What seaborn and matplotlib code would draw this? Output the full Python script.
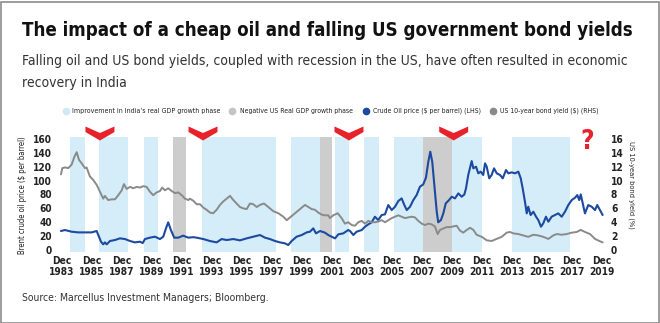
import matplotlib
matplotlib.use("Agg")
import matplotlib.pyplot as plt
from matplotlib.lines import Line2D
from matplotlib.patches import Polygon, Rectangle
import seaborn as sns

# ---------------- data ----------------
oil_years = [1983.85, 1984.12, 1984.56, 1985.0, 1985.45, 1985.9, 1986.23, 1986.34, 1986.52, 1986.67,
             1986.78, 1986.9, 1987.12, 1987.45, 1987.78, 1988.12, 1988.45, 1988.78, 1989.12, 1989.3,
             1989.45, 1989.78, 1990.12, 1990.45, 1990.67, 1990.85, 1991.0, 1991.18, 1991.4, 1991.67,
             1992.0, 1992.34, 1992.67, 1992.9, 1993.34, 1993.78, 1994.23, 1994.56, 1994.9, 1995.34,
             1995.78, 1996.23, 1996.67, 1997.12, 1997.45, 1997.78, 1998.12, 1998.45, 1998.78, 1999.0,
             1999.23, 1999.56, 1999.9, 2000.23, 2000.45, 2000.67, 2000.85, 2001.12, 2001.45, 2001.67,
             2001.9, 2002.12, 2002.34, 2002.67, 2003.0, 2003.12, 2003.34, 2003.56, 2003.9, 2004.12,
             2004.34, 2004.56, 2004.78, 2005.0, 2005.23, 2005.45, 2005.67, 2005.9, 2006.12, 2006.34,
             2006.56, 2006.74, 2006.9, 2007.12, 2007.34, 2007.56, 2007.78, 2008.0, 2008.18, 2008.34,
             2008.47, 2008.6, 2008.74, 2008.9, 2009.0, 2009.18, 2009.34, 2009.5, 2009.72, 2009.9,
             2010.12, 2010.34, 2010.56, 2010.74, 2010.85, 2011.0, 2011.23, 2011.34, 2011.52, 2011.67,
             2011.83, 2012.0, 2012.12, 2012.23, 2012.4, 2012.56, 2012.72, 2012.9, 2013.12, 2013.3,
             2013.52, 2013.67, 2013.9, 2014.12, 2014.34, 2014.5, 2014.63, 2014.78, 2014.9, 2015.0,
             2015.16, 2015.34, 2015.52, 2015.67, 2015.85, 2016.0, 2016.18, 2016.34, 2016.56, 2016.78,
             2017.0, 2017.23, 2017.45, 2017.67, 2017.9, 2018.12, 2018.27, 2018.4, 2018.5, 2018.63,
             2018.78, 2019.0, 2019.23, 2019.45, 2019.6, 2019.78, 2019.96]
oil_price = [27.4, 28.8, 26.4, 25.4, 25.4, 25.4, 27.4, 21.6, 12.0, 8.2,
             11.0, 8.2, 13.0, 14.4, 16.8, 15.8, 13.0, 11.0, 12.0, 10.0,
             15.8, 17.8, 19.2, 15.8, 19.2, 31.2, 39.9, 28.8, 17.8, 17.8,
             20.7, 17.8, 18.5, 17.8, 15.8, 13.0, 11.0, 15.8, 14.4, 15.8,
             13.9, 16.8, 19.2, 21.6, 17.8, 15.8, 13.0, 11.0, 9.6, 7.2,
             13.0, 19.2, 21.6, 25.4, 26.4, 31.2, 24.0, 27.4, 25.0, 21.6,
             19.2, 16.8, 22.6, 24.0, 28.8, 27.4, 21.6, 26.4, 28.8, 33.6,
             37.0, 39.9, 48.0, 43.2, 50.4, 51.4, 64.8, 57.6, 62.4, 70.6,
             74.4, 64.8, 57.6, 62.4, 72.0, 79.2, 91.2, 94.6, 104.2, 127.3,
             141.7, 127.3, 93.7, 55.2, 39.9, 43.2, 52.8, 67.2, 72.0, 76.8,
             74.4, 81.6, 76.8, 80.0, 88.8, 108.1, 128.2, 117.7, 120.1, 110.5,
             112.9, 108.1, 124.9, 120.1, 103.3, 108.1, 117.7, 110.5, 108.1, 103.3,
             115.3, 110.5, 111.9, 110.5, 112.9, 103.3, 88.8, 69.6, 52.8, 62.4,
             50.4, 55.2, 48.0, 43.2, 33.6, 38.4, 48.0, 40.8, 48.0, 50.4,
             52.8, 48.0, 55.2, 64.8, 72.0, 75.4, 79.2, 72.0, 80.2, 67.2,
             52.8, 64.8, 62.4, 57.6, 64.8, 57.6, 50.4]

yield_years = [1983.85, 1983.94, 1984.12, 1984.34, 1984.56, 1984.74, 1984.9, 1985.05, 1985.23, 1985.45,
               1985.56, 1985.78, 1986.0, 1986.23, 1986.45, 1986.67, 1986.78, 1987.0, 1987.23, 1987.45,
               1987.67, 1987.9, 1988.05, 1988.23, 1988.45, 1988.67, 1988.9, 1989.12, 1989.34, 1989.56,
               1989.78, 1990.0, 1990.23, 1990.45, 1990.6, 1990.78, 1991.0, 1991.23, 1991.45, 1991.67,
               1991.9, 1992.12, 1992.34, 1992.45, 1992.67, 1992.9, 1993.12, 1993.34, 1993.56, 1993.78,
               1994.0, 1994.23, 1994.45, 1994.67, 1994.9, 1995.12, 1995.34, 1995.56, 1995.78, 1996.0,
               1996.23, 1996.45, 1996.67, 1996.9, 1997.12, 1997.38, 1997.67, 1998.0, 1998.34, 1998.67,
               1998.9, 1999.12, 1999.45, 1999.78, 2000.12, 2000.34, 2000.56, 2000.78, 2001.0, 2001.23,
               2001.45, 2001.67, 2001.78, 2002.0, 2002.3, 2002.56, 2002.78, 2003.0, 2003.23, 2003.45,
               2003.67, 2003.9, 2004.12, 2004.34, 2004.56, 2004.78, 2005.0, 2005.23, 2005.45, 2005.67,
               2005.9, 2006.12, 2006.34, 2006.56, 2006.78, 2007.0, 2007.23, 2007.45, 2007.67, 2007.9,
               2008.12, 2008.34, 2008.56, 2008.78, 2008.96, 2009.12, 2009.34, 2009.56, 2009.78, 2010.0,
               2010.23, 2010.45, 2010.67, 2010.9, 2011.12, 2011.34, 2011.56, 2011.9, 2012.23, 2012.56,
               2012.9, 2013.23, 2013.56, 2013.78, 2014.0, 2014.34, 2014.67, 2015.0, 2015.34, 2015.67,
               2016.0, 2016.34, 2016.67, 2016.9, 2017.23, 2017.56, 2017.9, 2018.23, 2018.5, 2018.78,
               2019.12, 2019.45, 2019.74, 2019.96]
yield_pct = [10.9, 11.8, 11.9, 11.8, 12.3, 13.4, 14.1, 13.0, 12.5, 11.8,
             11.9, 10.6, 10.1, 9.4, 8.4, 7.4, 7.8, 7.2, 7.3, 7.3,
             7.9, 8.6, 9.5, 8.8, 9.1, 8.9, 9.1, 9.0, 9.2, 9.1,
             8.4, 7.9, 8.3, 8.5, 9.0, 8.6, 8.9, 8.5, 8.2, 8.3,
             7.9, 7.4, 7.2, 7.4, 7.1, 6.6, 6.6, 6.1, 5.8, 5.4,
             5.3, 5.8, 6.5, 7.0, 7.4, 7.8, 7.2, 6.7, 6.2, 6.0,
             5.9, 6.7, 6.6, 6.2, 6.5, 6.7, 6.2, 5.6, 5.3, 4.8,
             4.3, 4.7, 5.3, 5.9, 6.5, 6.2, 5.9, 5.8, 5.4, 5.1,
             5.0, 5.0, 4.6, 5.0, 5.3, 4.6, 3.8, 4.0, 3.6, 3.5,
             4.0, 4.2, 3.8, 4.2, 4.0, 4.0, 4.1, 4.3, 4.0, 4.3,
             4.6, 4.8, 5.0, 4.8, 4.6, 4.7, 4.8, 4.7, 4.2, 3.8,
             3.6, 3.8, 3.7, 3.4, 2.3, 2.9, 3.1, 3.3, 3.3, 3.4,
             3.5, 2.8, 2.5, 2.9, 3.2, 2.9, 2.2, 1.9, 1.4, 1.3,
             1.6, 1.9, 2.5, 2.6, 2.4, 2.3, 2.1, 1.9, 2.2, 2.1,
             1.9, 1.6, 2.1, 2.3, 2.2, 2.3, 2.5, 2.6, 2.9, 2.6,
             2.3, 1.6, 1.3, 1.1]

india_phase_start = [1984.42, 1986.40, 1989.37, 1993.25, 1999.17, 2002.11, 2004.06, 2006.06, 2009.95, 2013.90]
india_phase_end = [1985.44, 1988.34, 1990.32, 1998.19, 2001.12, 2003.06, 2005.02, 2008.00, 2011.93, 2017.80]
us_neg_start = [1991.34, 2001.12, 2008.00]
us_neg_end = [1992.21, 2001.92, 2009.95]

chevron_years = [1986.45, 1993.32, 2003.05, 2010.03]
question_year = 2018.95

tick_years = [1983.92 + 2 * i for i in range(19)]
tick_labels = [f"Dec\n{1983 + 2 * i}" for i in range(19)]
oil_ticks = [0, 20, 40, 60, 80, 100, 120, 140, 160]
yield_ticks = [0, 2, 4, 6, 8, 10, 12, 14, 16]

title = "The impact of a cheap oil and falling US government bond yields"
subtitle_1 = "Falling oil and US bond yields, coupled with recession in the US, have often resulted in economic"
subtitle_2 = "recovery in India"
source = "Source: Marcellus Investment Managers; Bloomberg."
legend_labels = ["Improvement in India\u2019s real GDP growth phase", "Negative US Real GDP growth phase",
                 "Crude Oil price ($ per barrel) (LHS)", "US 10-year bond yield ($) (RHS)"]

# ---------------- style ----------------
sns.set_theme(style="white")
plt.rcParams["font.family"] = ["DejaVu Sans"]
plt.rcParams["font.stretch"] = "condensed"

C_BAND = "#d4edf9"
C_GREYBAND = "#cdcdcd"
C_OIL = "#1c4aa0"
C_YIELD = "#8a8a8a"
C_RED = "#e8222b"
C_TXT = "#222222"

W, H = 660, 323
fig = plt.figure(figsize=(6.6, 3.23), dpi=100)
fig.patch.set_facecolor("white")

ax_left, ax_right, ax_top, ax_bot = 56, 604, 136.9, 252.1
ax = fig.add_axes([ax_left / W, 1 - ax_bot / H, (ax_right - ax_left) / W, (ax_bot - ax_top) / H])
ax.set_facecolor("none")

for s, e in zip(india_phase_start, india_phase_end):
    ax.axvspan(s, e, color=C_BAND, lw=0, zorder=0)
for s, e in zip(us_neg_start, us_neg_end):
    ax.axvspan(s, e, color=C_GREYBAND, lw=0, zorder=0)

sns.lineplot(x=oil_years, y=oil_price, ax=ax, color=C_OIL, lw=1.5, zorder=3)
ax.set_xlim(1983.52, 2020.05)
ax.set_ylim(-3, 163)
ax.set_yticks(oil_ticks)
ax.set_yticklabels([str(v) for v in oil_ticks])
ax.set_xticks(tick_years)
ax.set_xticklabels(tick_labels, linespacing=1.05)
for sp in ax.spines.values():
    sp.set_visible(False)
ax.tick_params(axis="both", length=0, labelsize=7.3, colors=C_TXT)
ax.tick_params(axis="x", pad=3)
ax.tick_params(axis="y", pad=3)
for lab in ax.get_xticklabels() + ax.get_yticklabels():
    lab.set_fontweight("bold")
ax.set_ylabel("Brent crude oil price ($ per barrel)", fontsize=5.5, color=C_TXT)
ax.yaxis.set_label_coords((27 - ax_left) / (ax_right - ax_left), 0.49)
ax.set_xlabel("")
ax.grid(False)

ax2 = ax.twinx()
sns.lineplot(x=yield_years, y=yield_pct, ax=ax2, color=C_YIELD, lw=1.4, zorder=3)
ax2.set_ylim(-0.3, 16.3)
ax2.set_yticks(yield_ticks)
ax2.set_yticklabels([str(v) for v in yield_ticks])
for sp in ax2.spines.values():
    sp.set_visible(False)
ax2.tick_params(axis="y", length=0, labelsize=7.3, colors=C_TXT, pad=5)
for lab in ax2.get_yticklabels():
    lab.set_fontweight("bold")
ax2.set_ylabel("US 10-year bond yield (%)", fontsize=5.3, color=C_TXT, rotation=270, va="bottom")
ax2.yaxis.set_label_coords((628 - ax_left) / (ax_right - ax_left), 0.58)
ax2.grid(False)

# chevrons (red V marks above the chart)
axh = ax_bot - ax_top
yr_per_px = (2020.05 - 1983.52) / (ax_right - ax_left)
def yfrac(py):
    return 1 - (py - ax_top) / axh
for cy in chevron_years:
    dx = 14.5 * yr_per_px
    pts = [(cy - dx, yfrac(126.5)), (cy, yfrac(133)), (cy + dx, yfrac(126.5)),
           (cy + dx, yfrac(132)), (cy, yfrac(140.5)), (cy - dx, yfrac(132))]
    ax.add_patch(Polygon(pts, closed=True, transform=ax.get_xaxis_transform(), facecolor=C_RED,
                         edgecolor="none", clip_on=False, zorder=5))
ax.text(question_year, yfrac(142), "?", transform=ax.get_xaxis_transform(),
        ha="center", va="center", color=C_RED, fontsize=19, fontweight="bold", zorder=6)

# legend row
leg_y = 1 - 111 / H
leg_items = [(66, 72, 146, "#cfe9f7"), (232, 240, 113, "#c4c4c4"),
             (366, 373, 107, C_OIL), (493, 500, 98, C_YIELD)]
texts_to_fit = []
for (mx, tx, tw, col), lab in zip(leg_items, legend_labels):
    fig.add_artist(Line2D([mx / W], [leg_y], marker="o", markersize=4.5, color=col,
                          lw=0, transform=fig.transFigure))
    t = fig.text(tx / W, leg_y, lab, fontsize=6.3, color=C_TXT, va="center", ha="left",
                 fontweight="medium")
    texts_to_fit.append((t, tw))

# titles
t_title = fig.text(22 / W, 1 - 36 / H, title, fontsize=15, fontweight="bold", color="#111111", va="baseline")
t_sub1 = fig.text(22 / W, 1 - 65 / H, subtitle_1, fontsize=10.8, color="#333333", va="baseline")
t_sub2 = fig.text(22 / W, 1 - 87 / H, subtitle_2, fontsize=10.8, color="#333333", va="baseline")
t_src = fig.text(22 / W, 1 - 301 / H, source, fontsize=8.5, color="#333333", va="baseline")
texts_to_fit += [(t_title, 615), (t_sub1, 604), (t_src, 249)]

fig.canvas.draw()
renderer = fig.canvas.get_renderer()
for t, target in texts_to_fit:
    w = t.get_window_extent(renderer).width
    t.set_fontsize(t.get_fontsize() * target / w)
t_sub2.set_fontsize(t_sub1.get_fontsize())

fig.add_artist(Rectangle((0.5 / W, 0.5 / H), (W - 2) / W, (H - 2) / H, transform=fig.transFigure,
                         fill=False, edgecolor="#8c8c8c", lw=1.2))

fig.savefig("out.png", dpi=100, facecolor="white")
